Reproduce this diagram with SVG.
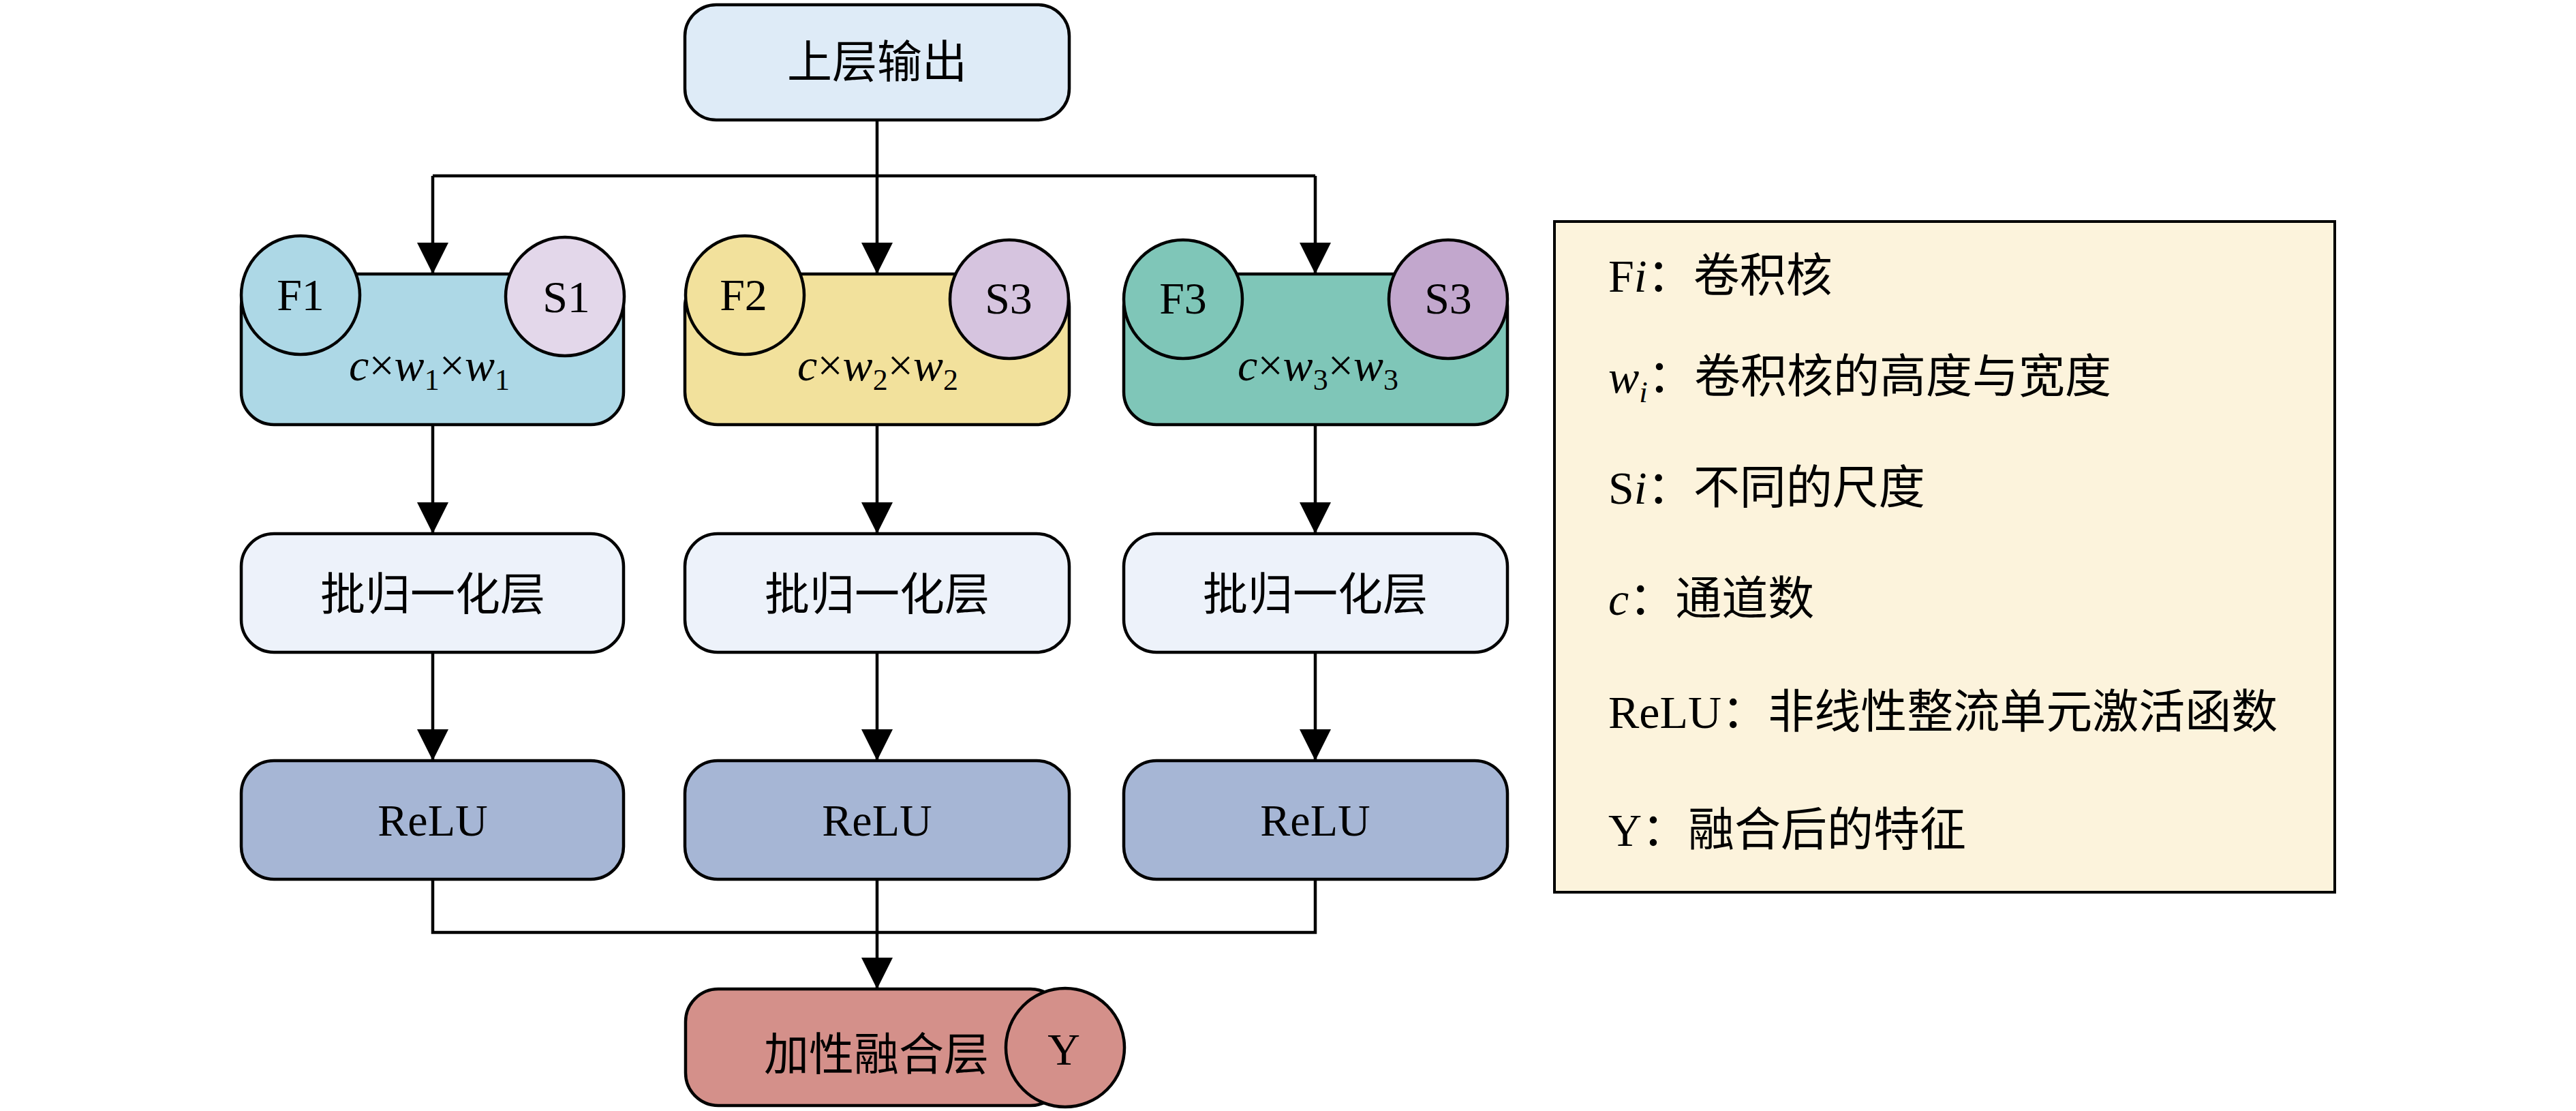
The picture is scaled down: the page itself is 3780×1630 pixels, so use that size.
<svg xmlns="http://www.w3.org/2000/svg" width="3780" height="1630" viewBox="0 0 3780 1630">
<style>
.b{stroke:#000;stroke-width:4.5}
.t{font-family:'Liberation Serif','Noto Sans CJK SC',serif;font-size:66px;text-anchor:middle;fill:#000}
.l{font-family:'Liberation Serif','Noto Sans CJK SC',serif;font-size:68px;fill:#000}
.it{font-style:italic}
.c{stroke:#000;stroke-width:4.5;fill:none}
</style>
<defs>
<marker id="ah" markerUnits="userSpaceOnUse" markerWidth="48" markerHeight="48" refX="46" refY="23" orient="auto" viewBox="0 0 48 48">
<path d="M0,0 L46,23 L0,46 Z" fill="#000"/>
</marker>
</defs>
<rect width="3780" height="1630" fill="#fff"/>

<g id="top">
<rect class="b" x="1005" y="7" width="564" height="169" rx="46" fill="#DEEBF7"/>
<text class="t" x="1287" y="114">上层输出</text>
</g>

<g id="conv1">
<rect class="b" x="354" y="402" width="561" height="221" rx="48" fill="#ADD8E6"/>
<circle class="b" cx="441" cy="433" r="87" fill="#ADD8E6"/>
<circle class="b" cx="829" cy="435" r="87" fill="#E3D7EA"/>
<text class="t" x="441" y="455">F1</text>
<text class="t" x="831" y="458">S1</text>
<text class="t" x="630" y="558"><tspan class="it">c</tspan>×<tspan class="it">w</tspan><tspan font-size="44" dy="14">1</tspan><tspan dy="-14">×</tspan><tspan class="it">w</tspan><tspan font-size="44" dy="14">1</tspan></text>
</g>

<g id="conv2">
<rect class="b" x="1005" y="402" width="564" height="221" rx="48" fill="#F2E19C"/>
<circle class="b" cx="1093" cy="433" r="87" fill="#F2E19C"/>
<circle class="b" cx="1481" cy="439" r="87" fill="#D6C4DF"/>
<text class="t" x="1091" y="455">F2</text>
<text class="t" x="1480" y="460">S3</text>
<text class="t" x="1288" y="558"><tspan class="it">c</tspan>×<tspan class="it">w</tspan><tspan font-size="44" dy="14">2</tspan><tspan dy="-14">×</tspan><tspan class="it">w</tspan><tspan font-size="44" dy="14">2</tspan></text>
</g>

<g id="conv3">
<rect class="b" x="1649" y="402" width="563" height="221" rx="48" fill="#7FC6B8"/>
<circle class="b" cx="1736" cy="439" r="87" fill="#7FC6B8"/>
<circle class="b" cx="2125" cy="439" r="87" fill="#C2A7CD"/>
<text class="t" x="1736" y="460">F3</text>
<text class="t" x="2125" y="460">S3</text>
<text class="t" x="1934" y="558"><tspan class="it">c</tspan>×<tspan class="it">w</tspan><tspan font-size="44" dy="14">3</tspan><tspan dy="-14">×</tspan><tspan class="it">w</tspan><tspan font-size="44" dy="14">3</tspan></text>
</g>

<g id="bn1">
<rect class="b" x="354" y="783" width="561" height="174" rx="48" fill="#EDF2FA"/>
<text class="t" x="635" y="895">批归一化层</text>
</g>
<g id="bn2">
<rect class="b" x="1005" y="783" width="564" height="174" rx="48" fill="#EDF2FA"/>
<text class="t" x="1287" y="895">批归一化层</text>
</g>
<g id="bn3">
<rect class="b" x="1649" y="783" width="563" height="174" rx="48" fill="#EDF2FA"/>
<text class="t" x="1930" y="895">批归一化层</text>
</g>

<g id="relu1">
<rect class="b" x="354" y="1116" width="561" height="174" rx="48" fill="#A6B6D5"/>
<text class="t" x="635" y="1226">ReLU</text>
</g>
<g id="relu2">
<rect class="b" x="1005" y="1116" width="564" height="174" rx="48" fill="#A6B6D5"/>
<text class="t" x="1287" y="1226">ReLU</text>
</g>
<g id="relu3">
<rect class="b" x="1649" y="1116" width="563" height="174" rx="48" fill="#A6B6D5"/>
<text class="t" x="1930" y="1226">ReLU</text>
</g>

<g id="fusion">
<rect class="b" x="1006" y="1451" width="554" height="171" rx="48" fill="#D4908A"/>
<circle class="b" cx="1563" cy="1537" r="87" fill="#D4908A"/>
<text class="t" x="1286" y="1570">加性融合层</text>
<text class="t" x="1561" y="1562">Y</text>
</g>

<g id="legend">
<rect x="2281" y="325" width="1145" height="984" fill="#FCF3DC" stroke="#000" stroke-width="4"/>
<text class="l" x="2360" y="428">F<tspan class="it">i</tspan>：卷积核</text>
<text class="l" x="2360" y="576"><tspan class="it">w</tspan><tspan class="it" font-size="45" dy="14">i</tspan><tspan dy="-14">：卷积核的高度与宽度</tspan></text>
<text class="l" x="2360" y="739">S<tspan class="it">i</tspan>：不同的尺度</text>
<text class="l" x="2360" y="902"><tspan class="it">c</tspan>：通道数</text>
<text class="l" x="2360" y="1068">ReLU：非线性整流单元激活函数</text>
<text class="l" x="2360" y="1241">Y：融合后的特征</text>
</g>

<g id="connectors">
<path class="c" d="M1287,176 V258"/>
<path class="c" d="M635,258 H1930"/>
<path class="c" d="M635,258 V402" marker-end="url(#ah)"/>
<path class="c" d="M1287,258 V402" marker-end="url(#ah)"/>
<path class="c" d="M1930,258 V402" marker-end="url(#ah)"/>
<path class="c" d="M635,623 V783" marker-end="url(#ah)"/>
<path class="c" d="M1287,623 V783" marker-end="url(#ah)"/>
<path class="c" d="M1930,623 V783" marker-end="url(#ah)"/>
<path class="c" d="M635,957 V1116" marker-end="url(#ah)"/>
<path class="c" d="M1287,957 V1116" marker-end="url(#ah)"/>
<path class="c" d="M1930,957 V1116" marker-end="url(#ah)"/>
<path class="c" d="M635,1290 V1368 H1930 V1290"/>
<path class="c" d="M1287,1290 V1451" marker-end="url(#ah)"/>
</g>
</svg>
